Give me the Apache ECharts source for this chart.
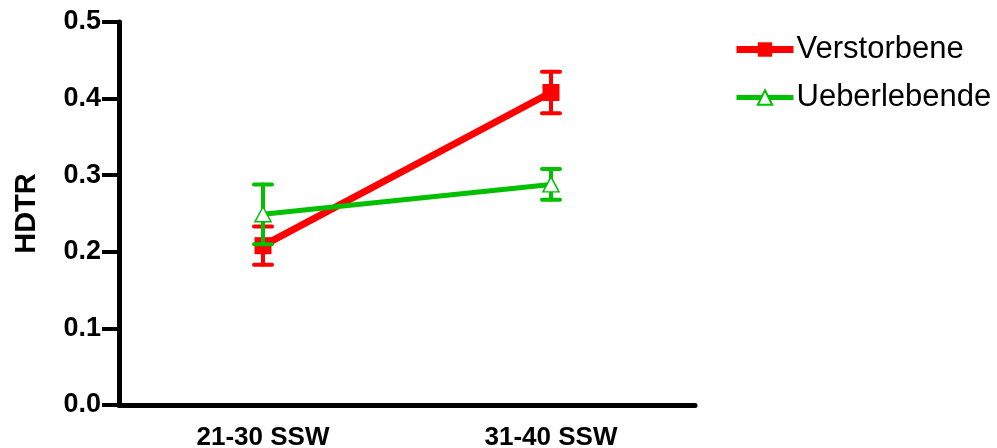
<!DOCTYPE html>
<html>
<head>
<meta charset="utf-8">
<script src="https://cdn.jsdelivr.net/npm/echarts@6/dist/echarts.min.js"></script>
<style>html,body{margin:0;padding:0;background:#fff}#c{width:997px;height:448px}</style>
</head>
<body>
<div id="c"></div>
<script>
var categories = ['21-30 SSW', '31-40 SSW'];
var seriesNames = ['Verstorbene', 'Ueberlebende'];
var verstorbeneMean = [0.208, 0.408];
var verstorbeneErr = [0.025, 0.027];
var ueberlebendeMean = [0.249, 0.288];
var ueberlebendeErr = [0.039, 0.020];
var yTicks = [0, 0.1, 0.2, 0.3, 0.4, 0.5];

var RED = '#ff0000', GREEN = '#00c000';

function errData(mean, err) {
  return mean.map(function (m, i) { return [i, m - err[i], m + err[i]]; });
}
function errSeries(name, mean, err, color, z) {
  return {
    type: 'custom',
    name: name + ' err',
    z: z,
    silent: true,
    data: errData(mean, err),
    renderItem: function (params, api) {
      var x = api.value(0);
      var lo = api.coord([x, api.value(1)]);
      var hi = api.coord([x, api.value(2)]);
      var hw = 9;
      var st = { stroke: color, lineWidth: 4, lineCap: 'round' };
      return {
        type: 'group',
        children: [
          { type: 'line', shape: { x1: lo[0], y1: lo[1], x2: hi[0], y2: hi[1] }, style: st },
          { type: 'line', shape: { x1: lo[0] - hw, y1: lo[1], x2: lo[0] + hw, y2: lo[1] }, style: st },
          { type: 'line', shape: { x1: hi[0] - hw, y1: hi[1], x2: hi[0] + hw, y2: hi[1] }, style: st }
        ]
      };
    }
  };
}

var chart = echarts.init(document.getElementById('c'), null, { renderer: 'canvas' });
chart.setOption({
  animation: false,
  backgroundColor: '#fff',
  grid: { left: 119, right: 302, top: 22, bottom: 43, containLabel: false, outerBoundsMode: 'none' },
  legend: {
    orient: 'vertical',
    left: 733,
    top: 34,
    padding: 0,
    itemWidth: 57,
    itemHeight: 18,
    itemGap: 17,
    data: [
      { name: seriesNames[0], lineStyle: { width: 7, color: RED } },
      { name: seriesNames[1], lineStyle: { width: 5, color: GREEN } }
    ],
    textStyle: { fontFamily: 'Liberation Sans, Arial', fontSize: 31, color: '#000', padding: [0, 0, 0, -2] }
  },
  xAxis: {
    type: 'category',
    data: categories,
    boundaryGap: true,
    axisLine: { lineStyle: { color: '#000', width: 5 } },
    axisTick: { alignWithLabel: true, length: 10, lineStyle: { color: '#000', width: 4 } },
    axisLabel: { fontFamily: 'Liberation Sans, Arial', fontWeight: 'bold', fontSize: 26, color: '#000', margin: 20 },
    splitLine: { show: false }
  },
  yAxis: {
    type: 'value',
    min: yTicks[0],
    max: yTicks[yTicks.length - 1],
    interval: 0.1,
    name: 'HDTR',
    nameLocation: 'middle',
    nameRotate: 90,
    nameGap: 78,
    nameTextStyle: { fontFamily: 'Liberation Sans, Arial', fontWeight: 'bold', fontSize: 29, color: '#000' },
    axisLine: { show: true, lineStyle: { color: '#000', width: 5 } },
    axisTick: { show: true, length: 17, lineStyle: { color: '#000', width: 4 } },
    axisLabel: {
      fontFamily: 'Liberation Sans, Arial', fontWeight: 'bold', fontSize: 27, color: '#000', margin: 18,
      formatter: function (v) { return v.toFixed(1); }
    },
    splitLine: { show: false }
  },
  series: [
    {
      name: seriesNames[0],
      type: 'line',
      data: verstorbeneMean,
      z: 3,
      symbol: 'rect',
      symbolSize: 17,
      lineStyle: { color: RED, width: 7 },
      itemStyle: { color: RED, borderWidth: 0 }
    },
    errSeries(seriesNames[0], verstorbeneMean, verstorbeneErr, RED, 2),
    {
      name: seriesNames[1],
      type: 'line',
      data: ueberlebendeMean,
      z: 5,
      symbol: 'triangle',
      symbolSize: [16, 15],
      lineStyle: { color: GREEN, width: 5 },
      itemStyle: { color: '#fff', borderColor: GREEN, borderWidth: 1.5 }
    },
    errSeries(seriesNames[1], ueberlebendeMean, ueberlebendeErr, GREEN, 4)
  ]
});
</script>
</body>
</html>
